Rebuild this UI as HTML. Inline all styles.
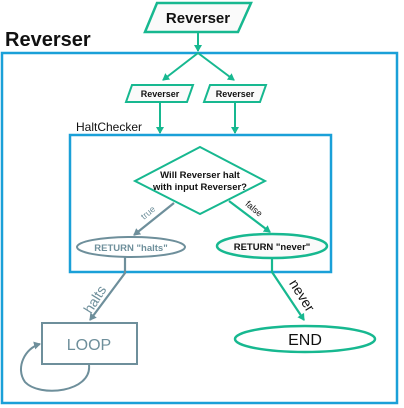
<!DOCTYPE html>
<html><head><meta charset="utf-8"><style>
html,body{margin:0;padding:0;background:#fff;}
svg{display:block;}
text{font-family:"Liberation Sans",sans-serif;}
</style></head><body>
<svg width="404" height="408" viewBox="0 0 404 408" xmlns="http://www.w3.org/2000/svg">
<defs>
<marker id="ag" markerWidth="8" markerHeight="8" refX="6" refY="4" orient="auto" markerUnits="userSpaceOnUse"><path d="M0,0 L7,4 L0,8 Z" fill="#17b890"/></marker>
<marker id="ay" markerWidth="8" markerHeight="8" refX="6" refY="4" orient="auto" markerUnits="userSpaceOnUse"><path d="M0,0 L7,4 L0,8 Z" fill="#6e8f9b"/></marker>
</defs>
<!-- top -->
<polygon points="157,3 251,3 238,32 145,32" fill="#fafafa" stroke="#17b890" stroke-width="2.5"/>
<text x="198" y="23" font-size="15" font-weight="bold" text-anchor="middle" fill="#111">Reverser</text>
<text x="5" y="46" font-size="20" font-weight="bold" fill="#111">Reverser</text>
<rect x="2" y="53" width="395" height="350" fill="none" stroke="#1aa0d8" stroke-width="2.5"/>
<line x1="198" y1="32" x2="198" y2="51" stroke="#17b890" stroke-width="2" marker-end="url(#ag)"/>
<line x1="198" y1="53" x2="163" y2="80" stroke="#17b890" stroke-width="2" marker-end="url(#ag)"/>
<line x1="198" y1="53" x2="234" y2="80" stroke="#17b890" stroke-width="2" marker-end="url(#ag)"/>
<polygon points="132,85 193,85 187,102 126,102" fill="#fafafa" stroke="#17b890" stroke-width="2"/>
<text x="160" y="97" font-size="9" font-weight="bold" text-anchor="middle" fill="#111">Reverser</text>
<polygon points="210,85 266,85 260,102 204,102" fill="#fafafa" stroke="#17b890" stroke-width="2"/>
<text x="235" y="97" font-size="9" font-weight="bold" text-anchor="middle" fill="#111">Reverser</text>
<line x1="160" y1="102" x2="160" y2="133" stroke="#17b890" stroke-width="2" marker-end="url(#ag)"/>
<line x1="235" y1="102" x2="235" y2="133" stroke="#17b890" stroke-width="2" marker-end="url(#ag)"/>
<text x="76" y="131" font-size="12" fill="#111">HaltChecker</text>
<rect x="70" y="135" width="261" height="137" fill="none" stroke="#1aa0d8" stroke-width="2.5"/>
<polygon points="200,147 265,181 200,214 135,181" fill="#fff" stroke="#17b890" stroke-width="2"/>
<text x="200" y="178" font-size="9.5" font-weight="bold" text-anchor="middle" fill="#111">Will Reverser halt</text>
<text x="200" y="190" font-size="9.5" font-weight="bold" text-anchor="middle" fill="#111">with input Reverser?</text>
<line x1="174" y1="203" x2="134" y2="235" stroke="#6e8f9b" stroke-width="2.2" marker-end="url(#ay)"/>
<text x="150" y="215" font-size="9" fill="#6e8f9b" text-anchor="middle" transform="rotate(-40 150 215)">true</text>
<line x1="229" y1="201" x2="270" y2="232" stroke="#17b890" stroke-width="2.2" marker-end="url(#ag)"/>
<text x="252" y="211" font-size="9" fill="#111" text-anchor="middle" transform="rotate(40 252 211)">false</text>
<ellipse cx="131" cy="247" rx="54" ry="10" fill="#fff" stroke="#6e8f9b" stroke-width="2"/>
<text x="131" y="251" font-size="9.5" font-weight="bold" text-anchor="middle" fill="#6e8f9b">RETURN "halts"</text>
<ellipse cx="272" cy="246" rx="55" ry="12" fill="#fafafa" stroke="#17b890" stroke-width="2.5"/>
<text x="272" y="250" font-size="9.5" font-weight="bold" text-anchor="middle" fill="#111">RETURN "never"</text>
<polyline points="125,257 125,273 90,320" fill="none" stroke="#6e8f9b" stroke-width="2.2" marker-end="url(#ay)"/>
<text x="99" y="302" font-size="14" fill="#6e8f9b" text-anchor="middle" transform="rotate(-58 99 302)">halts</text>
<polyline points="272,258 272,272 304,320" fill="none" stroke="#17b890" stroke-width="2.2" marker-end="url(#ag)"/>
<text x="298" y="298" font-size="14" fill="#111" text-anchor="middle" transform="rotate(58 298 298)">never</text>
<rect x="42" y="323" width="95" height="41" fill="#fff" stroke="#6e8f9b" stroke-width="2"/>
<text x="89" y="350" font-size="16" text-anchor="middle" fill="#6e8f9b">LOOP</text>
<ellipse cx="305" cy="339" rx="70" ry="13" fill="#fff" stroke="#17b890" stroke-width="2.5"/>
<text x="305" y="345" font-size="16" text-anchor="middle" fill="#111">END</text>
<path d="M89,365 C92,392 40,398 25,382 C15,368 25,348 40,344" fill="none" stroke="#6e8f9b" stroke-width="2" marker-end="url(#ay)"/>
</svg>
</body></html>
